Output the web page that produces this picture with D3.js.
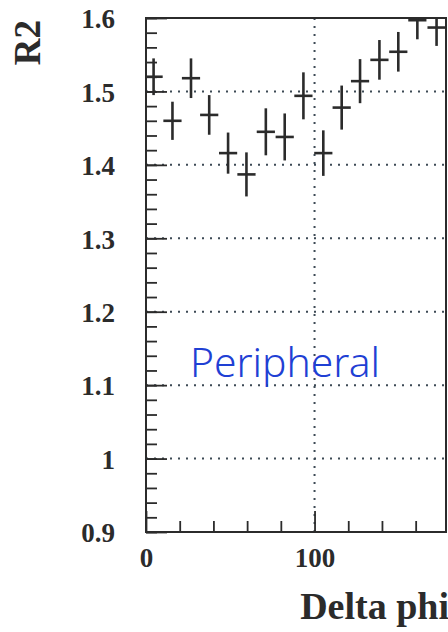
<!DOCTYPE html>
<html>
<head>
<meta charset="utf-8">
<script src="https://cdn.jsdelivr.net/npm/d3@7"></script>
<style>
  html, body { margin: 0; padding: 0; background: #fff; }
  svg { display: block; }
</style>
</head>
<body>
<svg id="chart" width="448" height="632"></svg>
<script>
// Delta phi bin centres (degrees)
const deltaPhi = [4.5, 15.7, 26.7, 37.5, 48.7, 59.6, 71.1, 82.3, 93.4, 105.2, 116.1, 127.0, 138.5, 149.7, 161.0, 172.4];
// R2 values per bin
const r2 = [1.520, 1.460, 1.518, 1.468, 1.416, 1.387, 1.445, 1.438, 1.494, 1.416, 1.478, 1.514, 1.543, 1.554, 1.597, 1.587];
// statistical errors on R2
const r2Err = [0.025, 0.026, 0.027, 0.027, 0.028, 0.030, 0.032, 0.032, 0.032, 0.031, 0.030, 0.030, 0.027, 0.027, 0.026, 0.025];
// half-width of each Delta phi bin
const binHalf = 5.4;

const yMajor = [0.9, 1.0, 1.1, 1.2, 1.3, 1.4, 1.5, 1.6];
const yLabels = ["0.9", "1", "1.1", "1.2", "1.3", "1.4", "1.5", "1.6"];
const yGrid = [1.0, 1.1, 1.2, 1.3, 1.4, 1.5];
const yMinor = d3.range(0, 36).map(i => +(0.9 + i * 0.02).toFixed(2));
const xMajor = [0, 100];
const xLabels = ["0", "100"];
const xGrid = [100];
const xMinor = [20, 40, 60, 80, 120, 140, 160];

const svg = d3.select("#chart");
const L = 146, R = 446, T = 18, B = 532;
const x = d3.scaleLinear().domain([0, 178]).range([L, R]);
const y = d3.scaleLinear().domain([0.9, 1.6]).range([B, T]);

const ink = "#2b2b2b";
const font = "'Liberation Serif', 'Times New Roman', serif";

svg.append("defs").append("clipPath").attr("id", "plot")
  .append("rect").attr("x", L).attr("y", T).attr("width", R - L).attr("height", B - T);

// dotted grid
const grid = svg.append("g").attr("stroke", "#3d4a55").attr("stroke-width", 2)
  .attr("stroke-dasharray", "2,6");
grid.selectAll("line.h").data(yGrid).join("line").attr("class", "h")
  .attr("x1", L).attr("x2", R).attr("y1", d => y(d)).attr("y2", d => y(d));
grid.selectAll("line.v").data(xGrid).join("line").attr("class", "v")
  .attr("y1", T).attr("y2", B).attr("x1", d => x(d)).attr("x2", d => x(d));

// axes
function styleAxis(g) {
  g.select(".domain").remove();
  g.selectAll(".tick line").attr("stroke", ink).attr("stroke-width", 1.8);
  g.selectAll(".tick text").attr("fill", ink).attr("font-family", font)
    .attr("font-weight", "bold").attr("font-size", 27);
}

svg.append("g").attr("transform", `translate(${L},0)`)
  .call(d3.axisLeft(y).tickValues(yMinor).tickSize(-11).tickFormat(""))
  .call(styleAxis);
svg.append("g").attr("transform", `translate(${L},0)`)
  .call(d3.axisLeft(y).tickValues(yMajor).tickSize(-21).tickPadding(31)
    .tickFormat((d, i) => yLabels[i]))
  .call(styleAxis)
  .selectAll(".tick text").attr("dy", "0.36em");

svg.append("g").attr("transform", `translate(0,${B})`)
  .call(d3.axisBottom(x).tickValues(xMinor).tickSize(-11).tickFormat(""))
  .call(styleAxis);
svg.append("g").attr("transform", `translate(0,${B})`)
  .call(d3.axisBottom(x).tickValues(xMajor).tickSize(-21).tickPadding(16)
    .tickFormat((d, i) => xLabels[i]))
  .call(styleAxis);

// frame
svg.append("rect").attr("x", L).attr("y", T).attr("width", R - L).attr("height", B - T)
  .attr("fill", "none").attr("stroke", ink).attr("stroke-width", 2);

// error-bar crosses
const pts = svg.append("g").attr("clip-path", "url(#plot)")
  .attr("stroke", ink).attr("stroke-width", 2.6);
const data = deltaPhi.map((d, i) => ({ x: d, y: r2[i], e: r2Err[i] }));
pts.selectAll("line.ex").data(data).join("line").attr("class", "ex")
  .attr("x1", d => x(d.x - binHalf)).attr("x2", d => x(d.x + binHalf))
  .attr("y1", d => y(d.y)).attr("y2", d => y(d.y));
pts.selectAll("line.ey").data(data).join("line").attr("class", "ey")
  .attr("x1", d => x(d.x)).attr("x2", d => x(d.x))
  .attr("y1", d => y(d.y - d.e)).attr("y2", d => y(d.y + d.e));

// axis titles
svg.append("text").attr("transform", "translate(40,20) rotate(-90)")
  .attr("text-anchor", "end").attr("font-family", font).attr("font-weight", "bold")
  .attr("font-size", 37).attr("fill", ink).text("R2");
svg.append("text").attr("x", 449).attr("y", 619)
  .attr("text-anchor", "end").attr("font-family", font).attr("font-weight", "bold")
  .attr("font-size", 38).attr("fill", ink).text("Delta phi");

// handwritten note
svg.append("text").attr("x", 190).attr("y", 377)
  .attr("font-family", "'Noto Sans', sans-serif").attr("font-size", 40).attr("font-weight", 300)
  .attr("fill", "#1f40d4").attr("textLength", 190).attr("lengthAdjust", "spacingAndGlyphs")
  .text("Peripheral");
</script>
</body>
</html>
